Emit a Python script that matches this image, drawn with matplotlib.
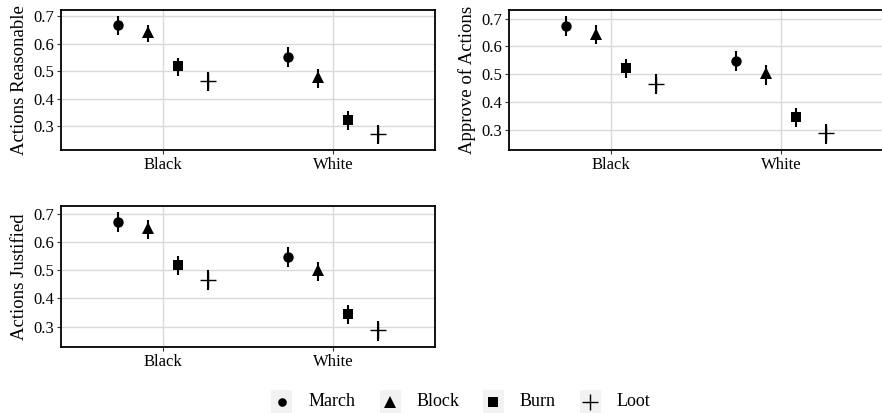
import matplotlib
matplotlib.use("Agg")
import matplotlib.pyplot as plt
from matplotlib.patches import Rectangle
import numpy as np

plt.rcParams['font.family'] = ['Liberation Serif', 'DejaVu Serif']

races = ["Black", "White"]
actions = ["March", "Block", "Burn", "Loot"]
markers = {"March": "o", "Block": "^", "Burn": "s", "Loot": "+"}
msizes = {"March": 7.5, "Block": 9.0, "Burn": 7.8, "Loot": 11.0}
leg_sizes = {"March": 6.2, "Block": 9.0, "Burn": 7.6, "Loot": 11.0}

panel_titles = ["Actions Reasonable", "Approve of Actions", "Actions Justified"]

# est[action] = [Black, White]; lo/hi are interval bounds
reason_est = {"March": [0.667, 0.552], "Block": [0.643, 0.479], "Burn": [0.518, 0.324], "Loot": [0.464, 0.273]}
reason_lo  = {"March": [0.633, 0.515], "Block": [0.606, 0.440], "Burn": [0.484, 0.288], "Loot": [0.430, 0.237]}
reason_hi  = {"March": [0.700, 0.588], "Block": [0.670, 0.510], "Burn": [0.548, 0.357], "Loot": [0.497, 0.306]}

approve_est = {"March": [0.673, 0.547], "Block": [0.646, 0.503], "Burn": [0.521, 0.345], "Loot": [0.465, 0.288]}
approve_lo  = {"March": [0.637, 0.511], "Block": [0.610, 0.461], "Burn": [0.485, 0.310], "Loot": [0.429, 0.250]}
approve_hi  = {"March": [0.708, 0.584], "Block": [0.678, 0.533], "Burn": [0.553, 0.378], "Loot": [0.500, 0.321]}

justify_est = {"March": [0.671, 0.547], "Block": [0.649, 0.501], "Burn": [0.519, 0.344], "Loot": [0.467, 0.286]}
justify_lo  = {"March": [0.637, 0.511], "Block": [0.610, 0.461], "Burn": [0.485, 0.308], "Loot": [0.431, 0.250]}
justify_hi  = {"March": [0.706, 0.583], "Block": [0.678, 0.531], "Burn": [0.551, 0.378], "Loot": [0.501, 0.318]}

yticks = [0.3, 0.4, 0.5, 0.6, 0.7]

W, H = 882, 413
fig = plt.figure(figsize=(W / 100, H / 100), dpi=100)

def px_axes(left, top, right, bottom):
    return fig.add_axes([left / W, 1 - bottom / H, (right - left) / W, (bottom - top) / H])

axes_px = [(61, 10, 435, 150), (509, 10, 883, 150), (61, 206, 435, 347)]
datasets = [(reason_est, reason_lo, reason_hi),
            (approve_est, approve_lo, approve_hi),
            (justify_est, justify_lo, justify_hi)]

dodge = 0.7
n = len(actions)
offsets = [(-dodge / 2 + dodge / n * (i + 0.5)) for i in range(n)]
xbase = np.arange(1, len(races) + 1)

grid_col = "#d9d9d9"
for (l, t, r, b), (est, lo, hi), title in zip(axes_px, datasets, panel_titles):
    ax = px_axes(l, t, r, b)
    allv = []
    for i, a in enumerate(actions):
        x = xbase + offsets[i]
        ax.vlines(x, lo[a], hi[a], color="black", linewidth=1.5, zorder=3)
        ax.plot(x, est[a], linestyle="none", marker=markers[a], markersize=msizes[a],
                color="black", markeredgewidth=1.0 if a == "Loot" else 0.0, zorder=4)
        allv += lo[a] + hi[a]
    vmin, vmax = min(allv), max(allv)
    pad = 0.05 * (vmax - vmin)
    ax.set_ylim(vmin - pad, vmax + pad)
    ax.set_xlim(0.4, 2.6)
    ax.set_xticks(xbase)
    ax.set_xticklabels(races)
    ax.set_yticks(yticks)
    ax.set_yticklabels([f"{v:.1f}" for v in yticks])
    ax.grid(True, color=grid_col, linewidth=1.0)
    ax.set_axisbelow(True)
    for s in ax.spines.values():
        s.set_linewidth(1.3)
        s.set_color("black")
    ax.tick_params(axis="both", length=3, width=0.8, color="#333333", labelsize=12, pad=2)
    ax.set_ylabel(title, fontsize=13.5, labelpad=4)

# legend
lax = fig.add_axes([0, 0, 1, 30 / H])
lax.set_xlim(0, W)
lax.set_ylim(0, 30)
lax.axis("off")
key_x = [281.7, 390, 493, 590]
for kx, a in zip(key_x, actions):
    lax.add_patch(Rectangle((kx - 10.5, 0), 21, 23, facecolor="#f2f2f2", edgecolor="none"))
    lax.plot([kx], [11.5], marker=markers[a], markersize=leg_sizes[a], color="black",
             linestyle="none", markeredgewidth=1.0 if a == "Loot" else 0.0)
    lax.text(kx + 27, 11.5, a, fontsize=13, va="center", ha="left")

fig.savefig("out.png", dpi=100)
